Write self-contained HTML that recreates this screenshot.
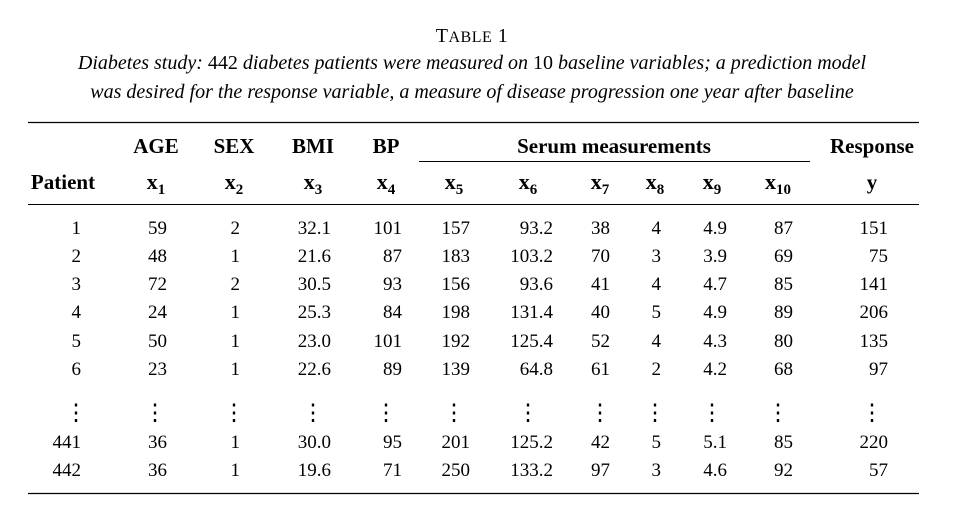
<!DOCTYPE html>
<html><head><meta charset="utf-8">
<style>
html,body{margin:0;padding:0;background:#fff;}
svg{display:block;font-family:"Liberation Serif",serif;}
</style></head>
<body>
<svg id="t" width="964" height="526" viewBox="0 0 964 526" xmlns="http://www.w3.org/2000/svg">
<text x="472" y="42" text-anchor="middle" font-size="20" letter-spacing="0.5">T<tspan font-size="16">ABLE</tspan> 1</text>
<text x="472" y="69" text-anchor="middle" font-size="20" font-style="italic">Diabetes study: <tspan font-style="normal">442</tspan> diabetes patients were measured on <tspan font-style="normal">10</tspan> baseline variables; a prediction model</text>
<text x="472" y="98" text-anchor="middle" font-size="20" font-style="italic">was desired for the response variable, a measure of disease progression one year after baseline</text>
<line x1="28" y1="122.5" x2="919" y2="122.5" stroke="#000" stroke-width="1.3"/>
<line x1="419" y1="161.5" x2="810" y2="161.5" stroke="#000" stroke-width="1"/>
<line x1="28" y1="204.5" x2="919" y2="204.5" stroke="#000" stroke-width="1"/>
<line x1="28" y1="493.5" x2="919" y2="493.5" stroke="#000" stroke-width="1.3"/>
<g font-weight="bold" font-size="21" text-anchor="middle">
<text x="156" y="153">AGE</text>
<text x="234" y="153">SEX</text>
<text x="313" y="153">BMI</text>
<text x="386" y="153">BP</text>
<text x="614" y="153">Serum measurements</text>
<text x="872" y="153">Response</text>
<text x="63" y="189">Patient</text>
<text x="872" y="189">y</text>
</g>
<g id="sub" font-weight="bold" font-size="22"></g>
<g id="body" font-size="19" text-anchor="end"></g>
</svg>
<script>
const subs = ["1","2","3","4","5","6","7","8","9","10"];
const rows = [
["1","59","2","32.1","101","157","93.2","38","4","4.9","87","151"],
["2","48","1","21.6","87","183","103.2","70","3","3.9","69","75"],
["3","72","2","30.5","93","156","93.6","41","4","4.7","85","141"],
["4","24","1","25.3","84","198","131.4","40","5","4.9","89","206"],
["5","50","1","23.0","101","192","125.4","52","4","4.3","80","135"],
["6","23","1","22.6","89","139","64.8","61","2","4.2","68","97"],
["441","36","1","30.0","95","201","125.2","42","5","5.1","85","220"],
["442","36","1","19.6","71","250","133.2","97","3","4.6","92","57"]];
const NS="http://www.w3.org/2000/svg";
const subX=[156,234,313,386,454,528,600,655,712,778];
const sub=document.getElementById('sub');
subs.forEach((s,i)=>{
  const t=document.createElementNS(NS,'text');
  
  
  t.setAttribute('x',subX[i]);t.setAttribute('y',189);t.setAttribute('text-anchor','middle');
  t.innerHTML='x<tspan font-size="15" dy="5">'+s+'</tspan>';
  sub.appendChild(t);
});
const colR=[81,167,240,331,402,470,553,610,661,727,793,888];
const rowY=[234,262,290,318,347,375,448,476];
const body=document.getElementById('body');
rows.forEach((r,ri)=>{
  r.forEach((v,ci)=>{
    const t=document.createElementNS(NS,'text');
    
    
    t.setAttribute('x',colR[ci]);t.setAttribute('y',rowY[ri]);
    t.textContent=v;body.appendChild(t);
  });
});
const dotX=[76,155,234,313,386,454,528,600,655,712,778,872];
dotX.forEach((x,i)=>{
  const t=document.createElementNS(NS,'text');
  
  
  t.setAttribute('x',x);t.setAttribute('y',420);t.setAttribute('text-anchor','middle');
  t.setAttribute('font-size','23');
  t.textContent='⋮';body.appendChild(t);
});
</script>
</body></html>
